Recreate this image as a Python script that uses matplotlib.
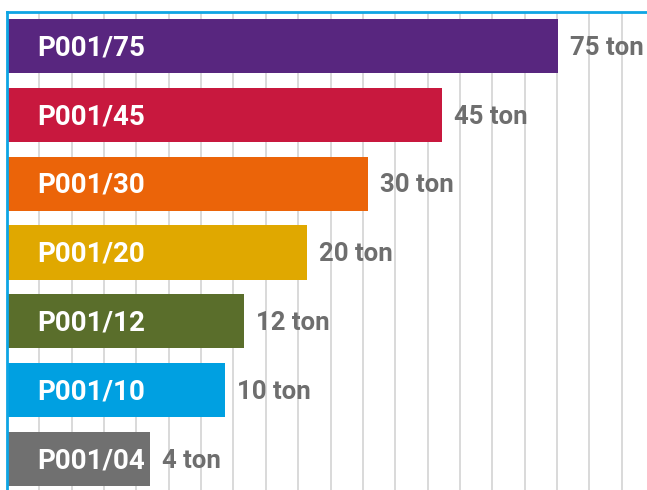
import matplotlib.pyplot as plt
import numpy as np

# Product batches and their weights
products = ['P001/75', 'P001/45', 'P001/30', 'P001/20', 'P001/12', 'P001/10', 'P001/04']
tons = [75, 45, 30, 20, 12, 10, 4]
colors = ['#58267f', '#c8183e', '#eb6409', '#e0a800', '#5a6e2b', '#00a0e1', '#707070']

plt.rcParams['font.family'] = ['Roboto', 'DejaVu Sans']

fig = plt.figure(figsize=(6.47, 4.90), dpi=100)
ax = fig.add_axes([7 / 647, 0, 640 / 647, 478 / 490])

y = np.arange(len(products))
ax.barh(y, tons, height=0.785, color=colors, zorder=2)

# compressed power scale so the small batches still show their names
p = 0.46
ax.set_xscale('function', functions=(lambda v: np.clip(v, 0, None) ** p,
                                     lambda t: np.clip(t, 0, None) ** (1 / p)))
ax.set_xlim(0, 8.466 ** (1 / p))
ax.set_ylim(6.45, -0.494)

grid_step = 0.428
ax.set_xticks((np.arange(1, 20) * grid_step) ** (1 / p))
ax.set_xticklabels([])
ax.tick_params(length=0)
ax.set_yticks([])
ax.grid(axis='x', color='#cfcfcf', linewidth=1.1, zorder=0)

for spine in ['right', 'bottom']:
    ax.spines[spine].set_visible(False)
for spine in ['left', 'top']:
    ax.spines[spine].set_color('#0ea5e4')
    ax.spines[spine].set_linewidth(2)
    ax.spines[spine].set_zorder(3)

for i, (name, t) in enumerate(zip(products, tons)):
    ax.annotate(name, xy=(0, i), xytext=(21.5, -1.2), textcoords='offset points',
                va='center', ha='left', color='white', fontsize=20, fontweight='bold', zorder=4)
    ax.annotate(f'{t} ton', xy=(t, i), xytext=(8.5, -1.2), textcoords='offset points',
                va='center', ha='left', color='#6e6e6e', fontsize=18.5, fontweight='bold', zorder=4)

fig.savefig('out.png', dpi=100)
